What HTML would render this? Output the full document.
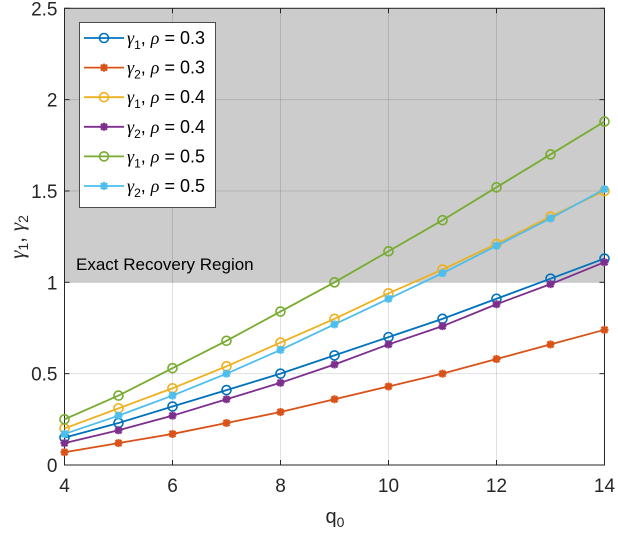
<!DOCTYPE html>
<html><head><meta charset="utf-8"><style>
body{margin:0;background:#fff;font-family:"Liberation Sans",sans-serif}
svg text{font-family:"Liberation Sans",sans-serif}
</style></head><body>
<svg id="c" width="618" height="532" xmlns="http://www.w3.org/2000/svg"></svg>
<script>
const xs=[4,5,6,7,8,9,10,11,12,13,14];
const g1r3=[0.15,0.23,0.32,0.41,0.50,0.60,0.70,0.80,0.91,1.02,1.13];
const g2r3=[0.07,0.12,0.17,0.23,0.29,0.36,0.43,0.50,0.58,0.66,0.74];
const g1r4=[0.20,0.31,0.42,0.54,0.67,0.80,0.94,1.07,1.21,1.36,1.50];
const g2r4=[0.12,0.19,0.27,0.36,0.45,0.55,0.66,0.76,0.88,0.99,1.11];
const g1r5=[0.25,0.38,0.53,0.68,0.84,1.00,1.17,1.34,1.52,1.70,1.88];
const g2r5=[0.17,0.27,0.38,0.50,0.63,0.77,0.91,1.05,1.20,1.35,1.51];
const xTicks=[4,6,8,10,12,14];
const yTicks=[0,0.5,1,1.5,2,2.5];
const yTickLabels=["0","0.5","1","1.5","2","2.5"];
const series=[
 {d:g1r3,c:"#0072BD",m:"o",s:"1",r:"0.3"},
 {d:g2r3,c:"#D95319",m:"*",s:"2",r:"0.3"},
 {d:g1r4,c:"#EDB120",m:"o",s:"1",r:"0.4"},
 {d:g2r4,c:"#7E2F8E",m:"*",s:"2",r:"0.4"},
 {d:g1r5,c:"#77AC30",m:"o",s:"1",r:"0.5"},
 {d:g2r5,c:"#4DBEEE",m:"*",s:"2",r:"0.5"}];
const L=64.5,R=604.5,T=8.3,B=465;
const X=v=>L+(v-4)/10*(R-L);
const Y=v=>B-v/2.5*(B-T);
const svg=document.getElementById('c');
const NS="http://www.w3.org/2000/svg";
function mk(t,a,p){const e=document.createElementNS(NS,t);for(const k in a)e.setAttribute(k,a[k]);(p||svg).appendChild(e);return e;}
let e;
e=mk('rect',{x:L,y:T,width:R-L,height:Y(1)-T,fill:'#cccccc'});


xTicks.forEach(t=>{e=mk('line',{x1:X(t),x2:X(t),y1:T,y2:B,stroke:'#000','stroke-opacity':0.12});


mk('line',{x1:X(t),x2:X(t),y1:B,y2:B-5,stroke:'#262626'});
mk('line',{x1:X(t),x2:X(t),y1:T,y2:T+5,stroke:'#262626'});
e=mk('text',{x:X(t),y:492,'text-anchor':'middle','font-size':19,fill:'#262626'});e.textContent=t;

});
yTicks.forEach((t,i)=>{e=mk('line',{x1:L,x2:R,y1:Y(t),y2:Y(t),stroke:'#000','stroke-opacity':0.12});


mk('line',{x1:L,x2:L+5,y1:Y(t),y2:Y(t),stroke:'#262626'});
mk('line',{x1:R,x2:R-5,y1:Y(t),y2:Y(t),stroke:'#262626'});
e=mk('text',{x:L-7,y:Y(t)+7,'text-anchor':'end','font-size':19,fill:'#262626'});e.textContent=yTickLabels[i];

});
e=mk('rect',{x:L,y:T,width:R-L,height:B-T,fill:'none',stroke:'#262626','stroke-width':1});


e=mk('text',{x:76,y:270,'font-size':17,fill:'#000'});e.textContent='Exact Recovery Region';


function marker(m,x,y,c,g){
 if(m==='o'){mk('circle',{cx:x,cy:y,r:4.5,fill:'none',stroke:c,'stroke-width':1.6},g);}
 else{mk('path',{d:`M${x-4} ${y}H${x+4}M${x} ${y-4}V${y+4}M${x-3} ${y-3}L${x+3} ${y+3}M${x-3} ${y+3}L${x+3} ${y-3}`,stroke:c,'stroke-width':2.2},g);}
}
series.forEach((s,i)=>{
 const g=mk('g',{});
 
 
 mk('polyline',{points:s.d.map((v,j)=>X(xs[j])+','+Y(v)).join(' '),fill:'none',stroke:s.c,'stroke-width':1.8},g);
 s.d.forEach((v,j)=>marker(s.m,X(xs[j]),Y(v),s.c,g));
});
e=mk('rect',{x:79.5,y:22.5,width:136,height:185,fill:'#fff',stroke:'#262626','stroke-width':0.8});


series.forEach((s,i)=>{
 const y=38+i*29.6;
 const g=mk('g',{});
 
 
 mk('line',{x1:84,x2:124,y1:y,y2:y,stroke:s.c,'stroke-width':1.8},g);
 marker(s.m,104,y,s.c,g);
 const t=mk('text',{x:127,y:y+6,'font-size':18,fill:'#000'},g);
 t.innerHTML=`<tspan font-family="Liberation Serif" font-style="italic">γ</tspan><tspan font-size="12" dy="5">${s.s}</tspan><tspan dy="-5">, </tspan><tspan font-family="Liberation Serif" font-style="italic">ρ</tspan> = ${s.r}`;
});
e=mk('text',{x:335,y:523,'text-anchor':'middle','font-size':20,fill:'#262626'});
e.innerHTML='q<tspan font-size="14" dy="4">0</tspan>';


e=mk('text',{transform:'translate(24,237) rotate(-90)','text-anchor':'middle','font-size':21,fill:'#262626'});
e.innerHTML='<tspan font-family="Liberation Serif" font-style="italic">γ</tspan><tspan font-size="14" dy="4">1</tspan><tspan dy="-4">, </tspan><tspan font-family="Liberation Serif" font-style="italic">γ</tspan><tspan font-size="14" dy="4">2</tspan>';


</script>
</body></html>
